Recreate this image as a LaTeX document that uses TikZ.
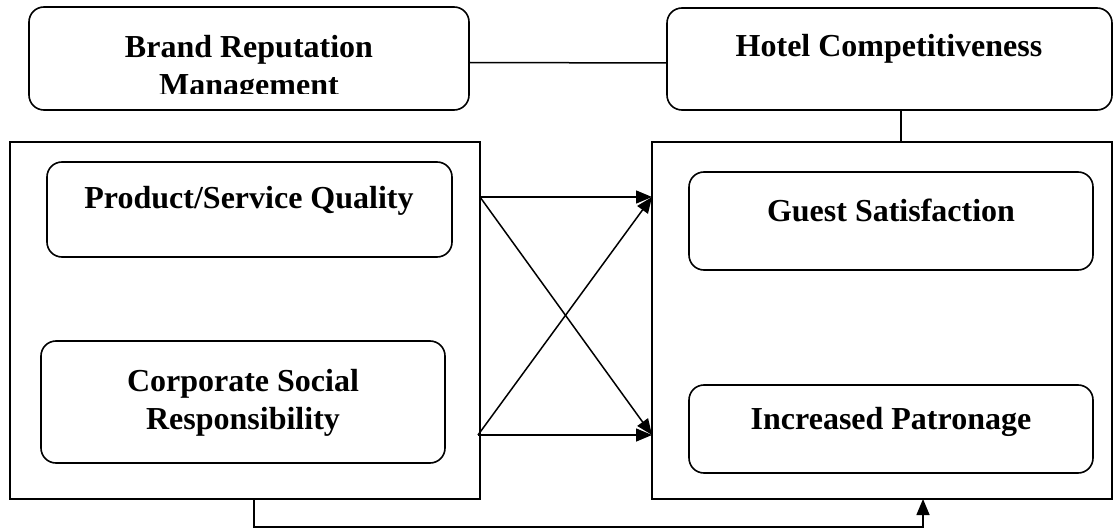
\documentclass[tikz,border=0pt]{standalone}
\usepackage{fontspec}
\setmainfont{Liberation Serif}
\usetikzlibrary{arrows.meta}
\begin{document}
\begin{tikzpicture}[x=1pt,y=-1pt,
  box/.style={draw,line width=1.6pt,inner sep=0pt,outer sep=0pt},
  rbox/.style={box,rounded corners=15pt},
  txt/.style={font=\fontsize{32}{38}\selectfont\bfseries,inner sep=0pt,anchor=base,align=center},
  conn/.style={line width=1.5pt},
  arr/.style={conn,-{Triangle[length=16pt,width=13pt]}}]
\useasboundingbox (0,0) rectangle (1115,529);
% boxes
\node[rbox,minimum width=440pt,minimum height=103pt] (brand) at (249,58.5) {};
\node[rbox,minimum width=445pt,minimum height=102pt] (hotel) at (889.5,59) {};
\node[box,minimum width=470pt,minimum height=357pt] (left) at (245,320.5) {};
\node[box,minimum width=460pt,minimum height=357pt] (right) at (882,320.5) {};
\node[rbox,minimum width=405pt,minimum height=95pt] (pq) at (249.5,209.5) {};
\node[rbox,minimum width=404pt,minimum height=122pt] (csr) at (243,402) {};
\node[rbox,minimum width=404pt,minimum height=98pt] (gs) at (891,221) {};
\node[rbox,minimum width=404pt,minimum height=88pt] (ip) at (891,429) {};
% texts
\begin{scope}
\clip (40,10) rectangle (460,94);
\node[txt] (brandt1) at (249,58) {Brand Reputation};
\node[txt] (brandt2) at (249,96) {Management};
\end{scope}
\node[txt] (hotelt) at (889,57) {Hotel Competitiveness};
\node[txt] (pqt) at (249,209) {Product/Service Quality};
\node[txt] (csrt1) at (243,391) {Corporate Social};
\node[txt] (csrt2) at (243,429) {Responsibility};
\node[txt] (gst) at (891,222) {Guest Satisfaction};
\node[txt] (ipt) at (891,429) {Increased Patronage};
% connectors
\draw[conn] ([yshift=-4pt]brand.east) -- ([yshift=-4pt]hotel.west);
\draw[conn] (hotel.south -| 901,0) -- (right.north -| 901,0);
\coordinate (a1) at (480,197);
\coordinate (a2) at (478,435);
\coordinate (b1) at (652,197);
\coordinate (b2) at (652,435);
\draw[arr] (a1) -- (b1);
\draw[arr] (a1) -- (b2);
\draw[arr] (a2) -- (b1);
\draw[arr] (a2) -- (b2);
\coordinate (f1) at (254,499);
\coordinate (f2) at (923,499);
\draw[arr] (f1) -- (254,527) -- (923,527) -- (f2);
\end{tikzpicture}
\end{document}
